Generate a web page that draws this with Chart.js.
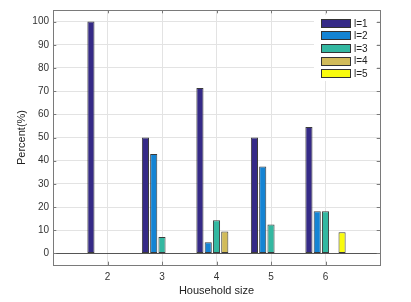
<!DOCTYPE html>
<html>
<head>
<meta charset="utf-8">
<script src="https://cdn.jsdelivr.net/npm/chart.js@4/dist/chart.umd.min.js"></script>
<style>
  html, body { margin: 0; padding: 0; background: #fff; }
  #wrap { width: 411px; height: 302px; position: relative; }
</style>
</head>
<body>
<div id="wrap"><canvas id="c" width="411" height="302"></canvas></div>
<script>
// ---- data ----
const categories = [2, 3, 4, 5, 6];
const seriesLabels = ['l=1', 'l=2', 'l=3', 'l=4', 'l=5'];
const l1 = [100, 50, 71.4, 50, 54.5];
const l2 = [0, 42.9, 4.8, 37.5, 18.2];
const l3 = [0, 7.1, 14.3, 12.5, 18.2];
const l4 = [0, 0, 9.5, 0, 0];
const l5 = [0, 0, 0, 0, 9.1];
const yTicks = [0, 10, 20, 30, 40, 50, 60, 70, 80, 90, 100];
const colors = ['#352a87', '#1484d4', '#33b8a1', '#d1bb59', '#f9fb0e'];

// x axis spans one category beyond each end (1 .. 7)
const labels = ['', ...categories.map(String), ''];
const pad = arr => [null, ...arr, null];
const series = [l1, l2, l3, l4, l5];

const FONT = "'Liberation Sans', Arial, Helvetica, sans-serif";
const AXIS = '#7a7a7a';

const matlabAxes = {
  id: 'matlabAxes',
  beforeDatasetsDraw(chart) {
    const ctx = chart.ctx;
    ctx.save();
    ctx.fillStyle = '#ffffff';
    ctx.fillRect(314, 15, 63, 66);
    ctx.restore();
  },
  afterDatasetsDraw(chart) {
    const ctx = chart.ctx;
    const a = chart.chartArea;
    const xs = chart.scales.x, ys = chart.scales.y;
    ctx.save();
    // baseline at 0
    const y0 = Math.round(ys.getPixelForValue(0)) + 0.5;
    ctx.strokeStyle = '#555';
    ctx.lineWidth = 1;
    ctx.beginPath();
    ctx.moveTo(a.left, y0); ctx.lineTo(a.right, y0);
    ctx.stroke();
    // box
    ctx.strokeStyle = AXIS;
    ctx.strokeRect(Math.round(a.left) + 0.5, Math.round(a.top) + 0.5,
                   Math.round(a.right - a.left), Math.round(a.bottom - a.top));
    // inside ticks
    const tl = 3.3;
    ctx.beginPath();
    yTicks.forEach(v => {
      const y = Math.round(ys.getPixelForValue(v)) + 0.5;
      ctx.moveTo(a.left, y); ctx.lineTo(a.left + tl, y);
      ctx.moveTo(a.right, y); ctx.lineTo(a.right - tl, y);
    });
    categories.forEach((c, i) => {
      const x = Math.round(xs.getPixelForValue(i + 1)) + 0.5;
      ctx.moveTo(x, a.bottom); ctx.lineTo(x, a.bottom - tl);
      ctx.moveTo(x, a.top); ctx.lineTo(x, a.top + tl);
    });
    ctx.stroke();
    // legend
    ctx.font = '10px ' + FONT;
    ctx.textBaseline = 'middle';
    ctx.textAlign = 'left';
    chart.data.datasets.forEach((ds, i) => {
      const cy = 23.3 + i * 12.6;
      ctx.fillStyle = ds.backgroundColor;
      ctx.fillRect(321, Math.round(cy - 4.5), 30, 9);
      ctx.strokeStyle = '#333';
      ctx.strokeRect(321.5, Math.round(cy - 4.5) + 0.5, 29, 8);
      ctx.fillStyle = '#222';
      ctx.fillText(ds.label, 354, cy + 0.5);
    });
    ctx.restore();
  }
};

new Chart(document.getElementById('c'), {
  type: 'bar',
  data: {
    labels: labels,
    datasets: series.map((s, i) => ({
      label: seriesLabels[i],
      data: pad(s),
      backgroundColor: colors[i],
      borderColor: '#3a3a3a',
      borderWidth: 1,
      borderSkipped: false,
      categoryPercentage: 0.76,
      barPercentage: 0.86
    }))
  },
  options: {
    responsive: false,
    animation: false,
    devicePixelRatio: 1,
    layout: { padding: { left: 0, right: 31, top: 5, bottom: 0 } },
    plugins: { legend: { display: false }, tooltip: { enabled: false } },
    scales: {
      x: {
        type: 'category',
        offset: false,
        grid: { color: '#e3e3e3', drawTicks: false, offset: false },
        border: { display: false },
        ticks: { autoSkip: false, maxRotation: 0, padding: 6, color: '#333', font: { family: FONT, size: 10 } },
        title: { display: true, text: 'Household size', color: '#222', font: { family: FONT, size: 11 }, padding: { top: 0, bottom: 4 } },
        afterFit(scale) { scale.height = 37; }
      },
      y: {
        min: -5,
        max: 105,
        grid: { color: '#e3e3e3', drawTicks: false },
        border: { display: false },
        afterBuildTicks(scale) { scale.ticks = yTicks.map(v => ({ value: v })); },
        ticks: { padding: 4, color: '#333', font: { family: FONT, size: 10 } },
        title: { display: true, text: 'Percent(%)', color: '#222', font: { family: FONT, size: 11 }, padding: { top: 15, bottom: 0 } },
        afterFit(scale) { scale.width = 53; }
      }
    }
  },
  plugins: [matlabAxes]
});
</script>
</body>
</html>
